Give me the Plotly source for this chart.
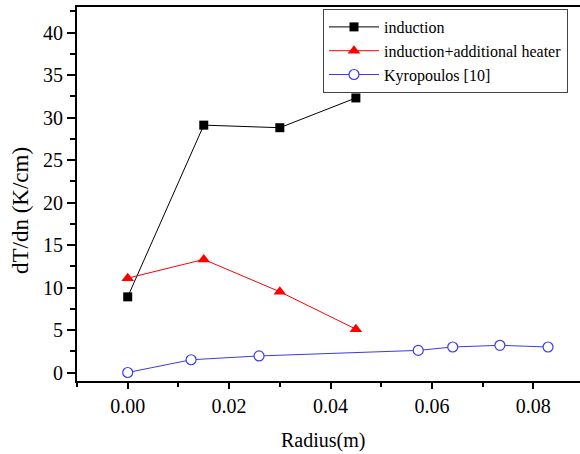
import plotly.graph_objects as go

# Radial temperature gradient data
radius_induction = [0.0, 0.015, 0.030, 0.045]
grad_induction = [8.9, 29.1, 28.8, 32.3]

radius_heater = [0.0, 0.015, 0.030, 0.045]
grad_heater = [11.1, 13.3, 9.5, 5.1]

radius_kyro = [0.0, 0.0125, 0.0259, 0.0573, 0.0641, 0.0734, 0.0829]
grad_kyro = [0.0, 1.5, 1.95, 2.6, 3.0, 3.2, 3.0]

series_names = ["induction", "induction+additional heater", "Kyropoulos [10]"]

x_ticks = [0.0, 0.02, 0.04, 0.06, 0.08]
x_ticklabels = ["0.00", "0.02", "0.04", "0.06", "0.08"]
y_ticks = [0, 5, 10, 15, 20, 25, 30, 35, 40]

FONT = "Times New Roman"
W, H = 580, 454
L, R, T, B = 77, 0, 7, 73

fig = go.Figure()

fig.add_trace(go.Scatter(
    x=radius_induction, y=grad_induction, name=series_names[0],
    mode="lines+markers",
    line=dict(color="black", width=1),
    marker=dict(symbol="square", size=9, color="black"),
))
fig.add_trace(go.Scatter(
    x=radius_heater, y=grad_heater, name=series_names[1],
    mode="lines+markers",
    line=dict(color="#ff0000", width=1),
    marker=dict(symbol="triangle-up", size=11, color="#ff0000"),
))
fig.add_trace(go.Scatter(
    x=radius_kyro, y=grad_kyro, name=series_names[2],
    mode="lines+markers",
    line=dict(color="#3a3af0", width=1),
    marker=dict(symbol="circle", size=10, color="white",
                line=dict(color="#3a3af0", width=1.2)),
))

plot_w = W - L - R
plot_h = H - T - B

fig.update_layout(
    width=W, height=H,
    margin=dict(l=L, r=R, t=T, b=B, pad=0),
    paper_bgcolor="white", plot_bgcolor="white",
    font=dict(family=FONT, size=20, color="black"),
    showlegend=True,
    legend=dict(
        x=(323 - L) / plot_w, y=(H - B - 9) / plot_h,
        xanchor="left", yanchor="top",
        bgcolor="white", bordercolor="#444", borderwidth=1,
        font=dict(family=FONT, size=16, color="black"),
        tracegroupgap=0, itemwidth=50,
        entrywidth=265, entrywidthmode="pixels",
    ),
    xaxis=dict(
        range=[-0.010, 0.0892],
        tickmode="array", tickvals=x_ticks, ticktext=x_ticklabels,
        ticks="outside", ticklen=6, tickwidth=1.5, tickcolor="black",
        minor=dict(dtick=0.01, tick0=0, ticks="outside", ticklen=4,
                   tickwidth=1.5, tickcolor="black"),
        showline=True, linecolor="black", linewidth=2, mirror=True,
        showgrid=False, zeroline=False,
        tickfont=dict(family=FONT, size=20, color="black"),
    ),
    yaxis=dict(
        range=[-1, 43],
        tickmode="array", tickvals=y_ticks,
        ticks="outside", ticklen=8, tickwidth=1.5, tickcolor="black",
        minor=dict(dtick=2.5, tick0=0, ticks="outside", ticklen=5,
                   tickwidth=1.5, tickcolor="black"),
        showline=True, linecolor="black", linewidth=2,
        showgrid=False, zeroline=False,
        tickfont=dict(family=FONT, size=20, color="black"),
    ),
    annotations=[
        dict(text="Radius(m)", xref="paper", yref="paper",
             x=(323 - L) / plot_w, y=(H - B - 440) / plot_h,
             xanchor="center", yanchor="middle", showarrow=False,
             font=dict(family=FONT, size=20, color="black")),
        dict(text="dT/dn (K/cm)", xref="paper", yref="paper",
             x=(21 - L) / plot_w, y=(H - B - 211) / plot_h,
             xanchor="center", yanchor="middle", showarrow=False,
             textangle=-90,
             font=dict(family=FONT, size=23, color="black")),
    ],
)

fig.write_html("out.html")
